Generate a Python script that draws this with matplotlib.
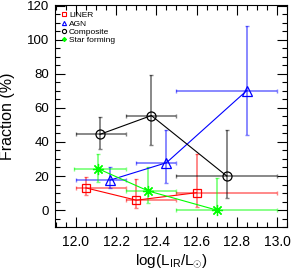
import numpy as np
import matplotlib.pyplot as plt
from matplotlib.ticker import MultipleLocator

plt.rcParams['font.family'] = ['Liberation Sans', 'DejaVu Sans']
plt.rcParams['mathtext.fontset'] = 'custom'
plt.rcParams['mathtext.rm'] = 'Liberation Sans'
plt.rcParams['mathtext.it'] = 'Liberation Sans'

# bin edges along log(L_IR/Lsun) for each class
liner_x = [12.05, 12.30, 12.60]
liner_xlo = [12.00, 12.25, 12.50]
liner_xhi = [12.25, 12.50, 13.00]
liner_y = [13.0, 5.8, 10.2]
liner_ylo = [8.8, 1.0, 1.6]
liner_yhi = [19.6, 18.0, 33.0]

agn_x = [12.17, 12.45, 12.85]
agn_xlo = [12.00, 12.30, 12.50]
agn_xhi = [12.25, 12.50, 13.00]
agn_y = [17.6, 27.8, 70.2]
agn_ylo = [12.7, 16.0, 44.3]
agn_yhi = [25.5, 47.0, 108.2]

comp_x = [12.12, 12.375, 12.75]
comp_xlo = [12.00, 12.25, 12.50]
comp_xhi = [12.25, 12.50, 13.00]
comp_y = [44.5, 55.5, 20.0]
comp_ylo = [35.9, 38.2, 6.9]
comp_yhi = [54.7, 79.6, 47.0]

sf_x = [12.11, 12.36, 12.70]
sf_xlo = [11.99, 12.25, 12.50]
sf_xhi = [12.25, 12.50, 13.00]
sf_y = [24.3, 11.2, 0.0]
sf_ylo = [16.7, 3.9, 0.0]
sf_yhi = [32.7, 25.5, 18.6]


def draw(ax, x, xlo, xhi, y, ylo, yhi, color, marker, ms, label):
    x = np.array(x); y = np.array(y)
    xerr = [x - np.array(xlo), np.array(xhi) - x]
    yerr = [y - np.array(ylo), np.array(yhi) - y]
    ax.errorbar(x, y, xerr=xerr, yerr=yerr, fmt='none', ecolor=color,
                alpha=0.5, elinewidth=1.3, capsize=1.5, capthick=1.0, zorder=2)
    ax.plot(x, y, '-', color=color, lw=0.8, zorder=3)
    ax.plot(x, y, linestyle='none', marker=marker, ms=ms, mfc='none',
            mec=color, mew=0.9, zorder=4)
    ax.plot([], [], linestyle='none', marker=marker, ms=3, mfc='none',
            mec=color, mew=0.8, label=label)


fig = plt.figure(figsize=(2.95, 2.71), dpi=100)
ax = fig.add_axes([0.186, 0.162, 0.787, 0.820])

draw(ax, liner_x, liner_xlo, liner_xhi, liner_y, liner_ylo, liner_yhi,
     'red', 's', 6, 'LINER')
draw(ax, agn_x, agn_xlo, agn_xhi, agn_y, agn_ylo, agn_yhi,
     'blue', '^', 6.5, 'AGN')
draw(ax, comp_x, comp_xlo, comp_xhi, comp_y, comp_ylo, comp_yhi,
     'black', 'o', 6.5, 'Composite')
draw(ax, sf_x, sf_xlo, sf_xhi, sf_y, sf_ylo, sf_yhi,
     'lime', (8, 2, 0), 8, 'Star forming')

ax.set_xlim(11.895, 13.05)
ax.set_ylim(-10, 120.5)
ax.xaxis.set_major_locator(MultipleLocator(0.2))
ax.xaxis.set_minor_locator(MultipleLocator(0.05))
ax.yaxis.set_major_locator(MultipleLocator(20))
ax.yaxis.set_minor_locator(MultipleLocator(5))
ax.tick_params(which='both', direction='in', top=True, right=True, width=0.8)
ax.tick_params(axis='y', labelsize=9.5, pad=4)
ax.tick_params(axis='x', labelsize=10, pad=6)
ax.tick_params(which='major', length=7)
ax.tick_params(which='minor', length=3.5)
ax.set_xlabel(r'log(L$_{\rm IR}$/L$_{\odot}$)', fontsize=11, labelpad=2)
ax.set_ylabel('Fraction (%)', fontsize=11.5, labelpad=9)

ax.legend(loc='upper left', fontsize=6, frameon=False, handlelength=0.6,
          handletextpad=0.3, labelspacing=0.05, borderaxespad=0.4,
          borderpad=0.4)

fig.savefig('out.png', dpi=100)
